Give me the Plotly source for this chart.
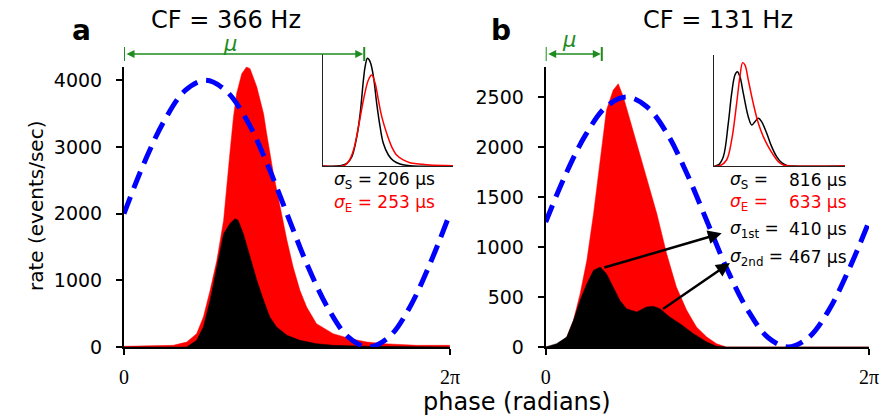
import plotly.graph_objects as go

W, H = 883, 418
TWO_PI = 6.2832

# ---------------- data ----------------
# Panel a (CF = 366 Hz)
a_red_phase = [0.00, 0.95, 1.21, 1.40, 1.53, 1.66, 1.79, 1.92, 2.04, 2.11, 2.17, 2.27, 2.36,
               2.43, 2.56, 2.69, 2.75, 2.88, 3.01, 3.14, 3.26, 3.39, 3.52, 3.71, 4.03, 4.36,
               4.68, 5.00, 5.64, 6.28]
a_red_rate = [10, 25, 75, 200, 450, 850, 1300, 1900, 2900, 3450, 3800, 4100, 4200,
              4175, 3900, 3500, 3200, 2600, 2100, 1600, 1200, 850, 600, 350, 200, 125,
              75, 50, 25, 25]
a_blk_phase = [0.00, 1.21, 1.40, 1.53, 1.66, 1.79, 1.92, 2.04, 2.14, 2.20, 2.30, 2.43, 2.56,
               2.69, 2.81, 2.94, 3.14, 3.39, 3.71, 4.03, 4.68, 6.28]
a_blk_rate = [0, 0, 100, 300, 700, 1200, 1700, 1850, 1925, 1900, 1700, 1350, 1000,
              700, 450, 300, 175, 100, 50, 25, 10, 0]

# Panel b (CF = 131 Hz)
b_red_phase = [0.00, 0.21, 0.41, 0.54, 0.67, 0.80, 0.93, 1.06, 1.18, 1.31, 1.41, 1.51, 1.64,
               1.77, 1.96, 2.16, 2.35, 2.54, 2.74, 2.93, 3.13, 3.32, 3.51, 6.28]
b_red_rate = [0, 17, 100, 267, 533, 867, 1333, 1867, 2367, 2567, 2633, 2500, 2267,
              2033, 1700, 1333, 933, 600, 367, 200, 100, 33, 0, 0]
b_blk_phase = [0.00, 0.21, 0.41, 0.54, 0.67, 0.80, 0.93, 1.06, 1.18, 1.31, 1.44, 1.57, 1.77,
               1.96, 2.09, 2.22, 2.41, 2.61, 2.87, 3.13, 3.32, 3.51, 6.28]
b_blk_rate = [0, 33, 100, 267, 467, 633, 767, 800, 733, 600, 467, 383, 350,
              400, 407, 383, 300, 233, 133, 50, 7, 0, 0]

# Stimulus waveform (dashed blue), sampled every pi/8
stim_phase = [0.00, 0.39, 0.79, 1.18, 1.57, 1.96, 2.36, 2.75, 3.14, 3.53, 3.93, 4.32,
              4.71, 5.11, 5.50, 5.89, 6.28]
a_stim = [2000, 2765, 3414, 3848, 4000, 3848, 3414, 2765, 2000, 1235, 586, 152,
          0, 152, 586, 1235, 2000]
b_stim = [1250, 1728, 2134, 2405, 2500, 2405, 2134, 1728, 1250, 772, 366, 95,
          0, 95, 366, 772, 1250]

# Insets (normalised rate vs time, arbitrary units)
ia_blk_t = [0, 13.3, 18.4, 22.2, 26.0, 28.6, 31.1, 32.4, 34.2, 36.2, 38.8, 41.3, 43.9,
            46.4, 50.3, 54.1, 59.2, 66.8, 100]
ia_blk_v = [0, 0.003, 0.025, 0.087, 0.272, 0.489, 0.799, 0.923, 1.0, 0.969, 0.830, 0.582,
            0.365, 0.211, 0.102, 0.050, 0.019, 0.003, 0]
ia_red_t = [0, 15.8, 19.6, 23.5, 27.3, 31.1, 34.9, 37.5, 40.1, 42.6, 45.2, 49.0, 52.8,
            56.6, 61.7, 66.8, 74.5, 82.1, 100]
ia_red_v = [0, 0.003, 0.040, 0.149, 0.365, 0.613, 0.799, 0.845, 0.768, 0.613, 0.458, 0.303,
            0.180, 0.102, 0.056, 0.031, 0.019, 0.009, 0.003]

ib_blk_t = [0, 3.1, 6.9, 10.7, 13.3, 15.8, 17.6, 19.6, 22.2, 26.0, 28.6, 31.1, 33.7,
            36.2, 40.1, 43.9, 47.7, 51.5, 55.4, 60.5, 100]
ib_blk_v = [0, 0.010, 0.090, 0.413, 0.703, 0.881, 0.913, 0.865, 0.703, 0.477, 0.397, 0.429,
            0.461, 0.429, 0.316, 0.187, 0.090, 0.032, 0.006, 0, 0]
ib_red_t = [0, 4.3, 9.4, 13.3, 17.1, 19.6, 21.7, 23.5, 26.0, 29.8, 33.7, 37.5, 41.3,
            45.2, 49.0, 52.8, 57.9, 100]
ib_red_v = [0, 0.003, 0.058, 0.252, 0.606, 0.865, 1.0, 0.977, 0.832, 0.606, 0.413, 0.284,
            0.187, 0.106, 0.042, 0.010, 0, 0]

a_yticks = [0, 1000, 2000, 3000, 4000]
b_yticks = [0, 500, 1000, 1500, 2000, 2500]
x_tickvals = [0, TWO_PI]
x_ticktext = ["0", "2\u03c0"]

mu_a = 4.63
mu_b = 1.09

# arrows in panel b: (tail phase, tail rate, head phase, head rate)
arrow1 = (1.11, 790, 3.42, 1137)
arrow2 = (2.25, 370, 3.58, 840)

# ---------------- figure ----------------
RED = "#ff0000"
BLUE = "#0000ff"
GREEN = "#1e8c1e"
FONT = "DejaVu Sans"

fig = go.Figure()

def fill_trace(x, y, color, xa, ya):
    fig.add_trace(go.Scatter(x=x, y=y, mode="lines", fill="tozeroy", fillcolor=color,
                             line=dict(width=0.5, color=color), xaxis=xa, yaxis=ya,
                             hoverinfo="skip", showlegend=False))

fill_trace(a_red_phase, a_red_rate, RED, "x", "y")
fill_trace(a_blk_phase, a_blk_rate, "#000000", "x", "y")
fill_trace(b_red_phase, b_red_rate, RED, "x2", "y2")
fill_trace(b_blk_phase, b_blk_rate, "#000000", "x2", "y2")

for stim, xa, ya in [(a_stim, "x", "y"), (b_stim, "x2", "y2")]:
    fig.add_trace(go.Scatter(x=stim_phase, y=stim, mode="lines", line_shape="spline",
                             line=dict(color=BLUE, width=5, dash="18px,9px"),
                             xaxis=xa, yaxis=ya, hoverinfo="skip", showlegend=False))

for t, v, c, xa, ya in [(ia_blk_t, ia_blk_v, "black", "x3", "y3"),
                        (ia_red_t, ia_red_v, RED, "x3", "y3"),
                        (ib_blk_t, ib_blk_v, "black", "x4", "y4"),
                        (ib_red_t, ib_red_v, RED, "x4", "y4")]:
    fig.add_trace(go.Scatter(x=t, y=v, mode="lines", line_shape="spline",
                             line=dict(color=c, width=1.5), xaxis=xa, yaxis=ya,
                             hoverinfo="skip", showlegend=False))

def px(x):
    return x / W

def py(y):
    return 1 - y / H

main_x = dict(range=[0, TWO_PI], showline=True, linewidth=2, linecolor="black",
              ticks="outside", ticklen=6, tickwidth=2, tickcolor="black",
              tickvals=x_tickvals, ticktext=x_ticktext, ticklabelstandoff=5,
              tickfont=dict(family="Liberation Serif", size=20, color="black"),
              showgrid=False, zeroline=False, fixedrange=True, automargin=False)
main_y = dict(showline=True, linewidth=2, linecolor="black", ticks="outside", ticklen=6,
              tickwidth=2, tickcolor="black", ticklabelstandoff=10,
              tickfont=dict(family=FONT, size=19, color="black"),
              showgrid=False, zeroline=False, fixedrange=True, automargin=False)
inset_ax = dict(showline=True, linewidth=1, linecolor="#222222", ticks="",
                showticklabels=False, showgrid=False, zeroline=False, fixedrange=True,
                automargin=False)

fig.update_layout(
    width=W, height=H, margin=dict(l=0, r=0, t=0, b=0, autoexpand=False),
    paper_bgcolor="white", plot_bgcolor="rgba(0,0,0,0)",
    xaxis=dict(main_x, domain=[px(124), px(450)], anchor="y"),
    yaxis=dict(main_y, domain=[py(347), py(67)], range=[0, 4200], tickvals=a_yticks, anchor="x"),
    xaxis2=dict(main_x, domain=[px(545.7), px(869)], anchor="y2"),
    yaxis2=dict(main_y, domain=[py(347), py(67)], range=[0, 2800], tickvals=b_yticks, anchor="x2"),
    xaxis3=dict(inset_ax, domain=[px(323), px(453)], range=[0, 100], anchor="y3"),
    yaxis3=dict(inset_ax, domain=[py(166), py(54)], range=[0, 1.04], anchor="x3"),
    xaxis4=dict(inset_ax, domain=[px(714.3), px(845)], range=[0, 100], anchor="y4"),
    yaxis4=dict(inset_ax, domain=[py(166), py(55)], range=[0, 1.074], anchor="x4"),
)

ann = []

def text(x, y, s, size, color="black", xanchor="center", bold=False, family=FONT):
    ann.append(dict(x=px(x), y=py(y), xref="paper", yref="paper", text=s, showarrow=False,
                    xanchor=xanchor, yanchor="middle",
                    font=dict(family=family, size=size, color=color,
                              weight="bold" if bold else "normal")))

text(81, 30, "a", 28, bold=True)
text(501, 30, "b", 28, bold=True)
text(226, 20, "CF = 366 Hz", 24)
text(717.5, 20, "CF = 131 Hz", 24)
text(517, 402, "phase (radians)", 24)
ann.append(dict(x=px(22), y=py(206), xref="paper", yref="paper", text="rate (events/sec)",
                showarrow=False, textangle=-90, font=dict(family=FONT, size=20, color="black")))

text(230, 44, "<i>\u03bc</i>", 21, color=GREEN)
text(569, 40, "<i>\u03bc</i>", 21, color=GREEN)

# sigma labels
text(331.7, 180, "<i>\u03c3</i><sub>S</sub> = 206 \u03bcs", 17, xanchor="left")
text(331.7, 203, "<i>\u03c3</i><sub>E</sub> = 253 \u03bcs", 17, color=RED, xanchor="left")
b_lines = [("<i>\u03c3</i><sub>S</sub> =", "816 \u03bcs", "black", 180),
           ("<i>\u03c3</i><sub>E</sub> =", "633 \u03bcs", RED, 202),
           ("<i>\u03c3</i><sub>1st</sub> =", "410 \u03bcs", "black", 229),
           ("<i>\u03c3</i><sub>2nd</sub> =", "467 \u03bcs", "black", 257)]
for lab, val, col, yy in b_lines:
    text(728.3, yy, lab, 17, color=col, xanchor="left")
    text(849, yy, val, 17, color=col, xanchor="right")

# green mu arrows
for mu, xr in [(mu_a, "x"), (mu_b, "x2")]:
    ann.append(dict(x=mu, y=py(54), xref=xr, yref="paper", ax=0, axref=xr, ay=0, ayref="pixel",
                    text="", showarrow=True, arrowhead=2, arrowside="end+start", arrowsize=1,
                    arrowwidth=1.6, arrowcolor=GREEN, standoff=1, startstandoff=1))

# black arrows in panel b
for tx, ty, hx, hy in [arrow1, arrow2]:
    ann.append(dict(x=hx, y=hy, xref="x2", yref="y2", ax=tx, ay=ty, axref="x2", ayref="y2",
                    text="", showarrow=True, arrowhead=2, arrowsize=1.1, arrowwidth=2.5,
                    arrowcolor="black"))

shapes = []
for mu, xr in [(0, "x"), (mu_a, "x"), (0, "x2"), (mu_b, "x2")]:
    shapes.append(dict(type="line", xref=xr, yref="paper", x0=mu, x1=mu, y0=py(61), y1=py(47),
                       line=dict(color=GREEN, width=2)))

fig.update_layout(annotations=ann, shapes=shapes)
fig.write_html("out.html", config={"displayModeBar": False},
               post_script="document.body.style.margin='0';document.body.style.overflow='hidden';")
